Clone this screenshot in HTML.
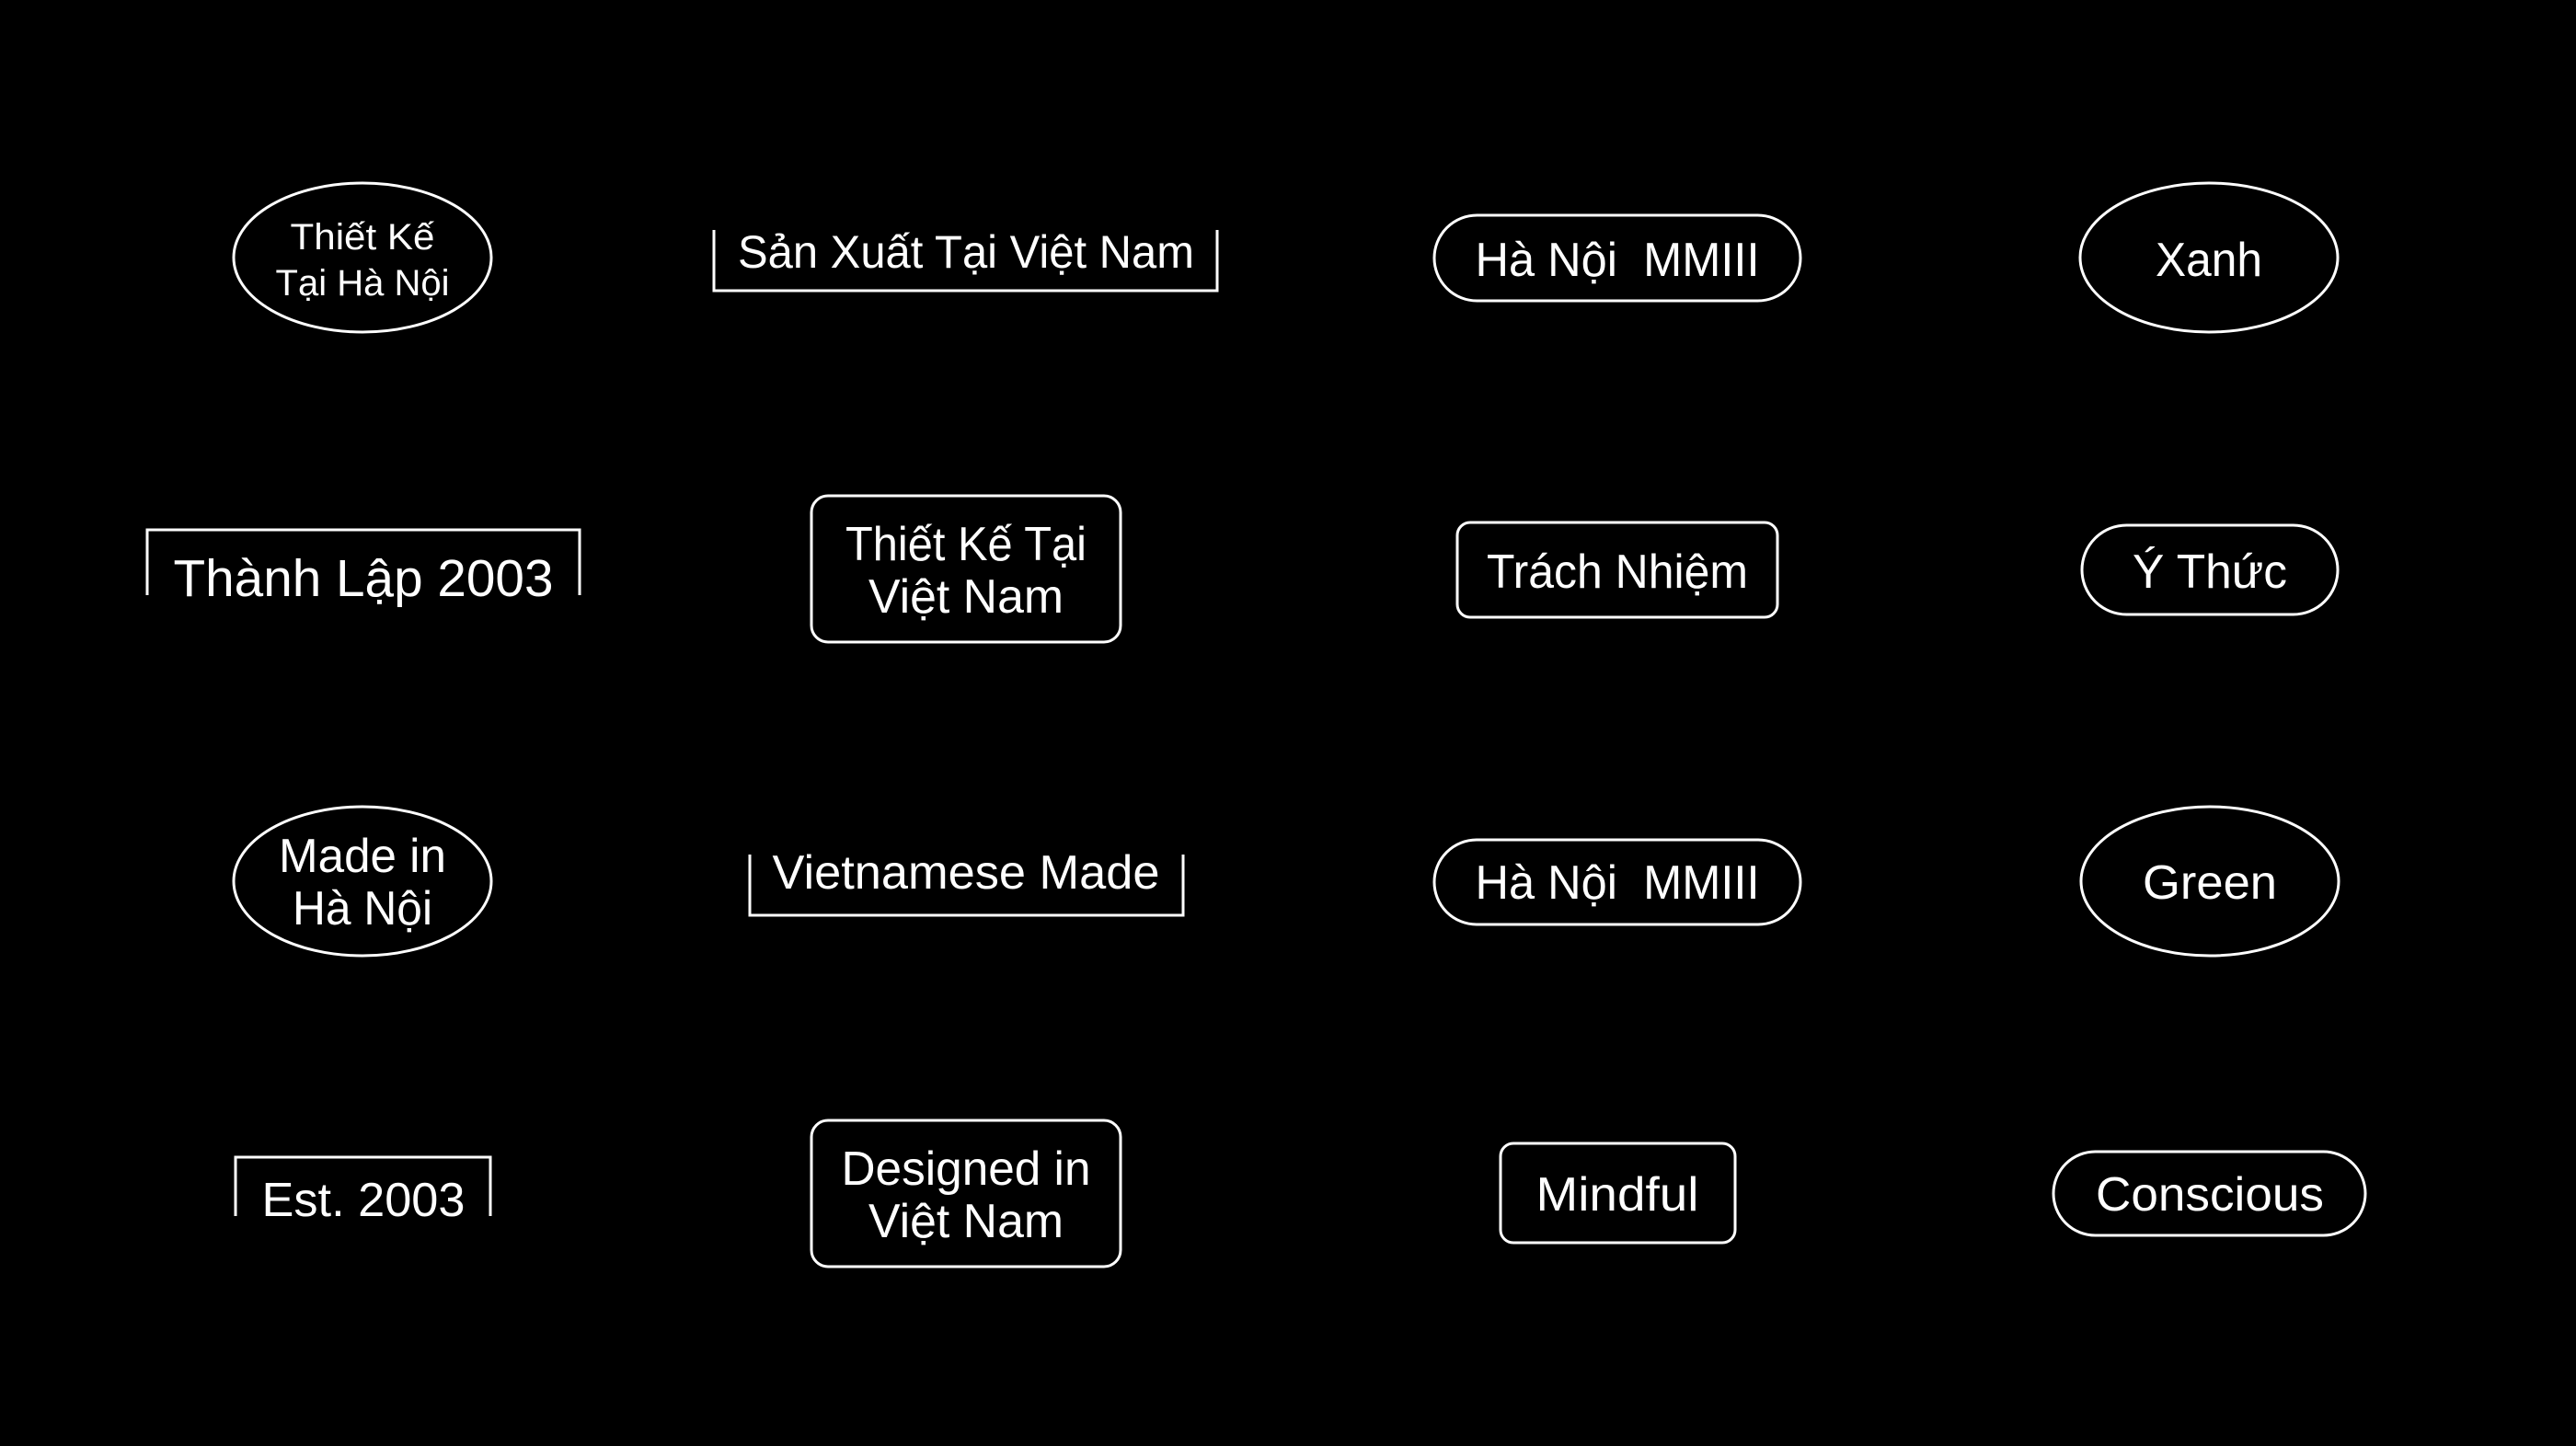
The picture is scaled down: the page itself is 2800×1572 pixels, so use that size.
<!DOCTYPE html>
<html><head><meta charset="utf-8"><style>
html,body{margin:0;padding:0;background:#000;}
svg{display:block}
text{fill:#fff;font-family:"Liberation Sans",sans-serif;text-anchor:middle}
.s{fill:none;stroke:#fff;stroke-width:3}
</style></head><body>
<svg width="2800" height="1572" viewBox="0 0 2800 1572">
<rect width="2800" height="1572" fill="#000"/>
<!-- Row 1 -->
<ellipse class="s" cx="394" cy="280" rx="140" ry="81"/>
<text x="394" y="271" font-size="40" textLength="157" lengthAdjust="spacingAndGlyphs">Thiết Kế</text>
<text x="394" y="321" font-size="40" textLength="189" lengthAdjust="spacingAndGlyphs">Tại Hà Nội</text>

<path class="s" d="M776 250 V316 H1323 V250"/>
<text x="1050" y="291" font-size="50" textLength="496" lengthAdjust="spacingAndGlyphs">Sản Xuất Tại Việt Nam</text>

<rect class="s" x="1559" y="234" width="398" height="93" rx="46.5"/>
<text x="1758" y="300" font-size="52" textLength="309" lengthAdjust="spacingAndGlyphs" xml:space="preserve">Hà Nội  MMIII</text>

<ellipse class="s" cx="2401" cy="280" rx="140" ry="81"/>
<text x="2401" y="300" font-size="52" textLength="116" lengthAdjust="spacingAndGlyphs">Xanh</text>

<!-- Row 2 -->
<path class="s" d="M160 647 V576 H630 V647"/>
<text x="395" y="648" font-size="57" textLength="413" lengthAdjust="spacingAndGlyphs">Thành Lập 2003</text>

<rect class="s" x="882" y="539" width="336" height="159" rx="18"/>
<text x="1050" y="609" font-size="52" textLength="262" lengthAdjust="spacingAndGlyphs">Thiết Kế Tại</text>
<text x="1050" y="666" font-size="52" textLength="212" lengthAdjust="spacingAndGlyphs">Việt Nam</text>

<rect class="s" x="1584" y="568" width="348" height="103" rx="14"/>
<text x="1758" y="639" font-size="52" textLength="284" lengthAdjust="spacingAndGlyphs">Trách Nhiệm</text>

<rect class="s" x="2263" y="571" width="278" height="97" rx="48.5"/>
<text x="2402" y="639" font-size="52" textLength="168" lengthAdjust="spacingAndGlyphs">Ý Thức</text>

<!-- Row 3 -->
<ellipse class="s" cx="394" cy="958" rx="140" ry="81"/>
<text x="394" y="948" font-size="52" textLength="182" lengthAdjust="spacingAndGlyphs">Made in</text>
<text x="394" y="1005" font-size="52" textLength="152" lengthAdjust="spacingAndGlyphs">Hà Nội</text>

<path class="s" d="M815 929 V995 H1286 V929"/>
<text x="1050" y="966" font-size="52" textLength="421" lengthAdjust="spacingAndGlyphs">Vietnamese Made</text>

<rect class="s" x="1559" y="913" width="398" height="92" rx="46"/>
<text x="1758" y="977" font-size="52" textLength="309" lengthAdjust="spacingAndGlyphs" xml:space="preserve">Hà Nội  MMIII</text>

<ellipse class="s" cx="2402" cy="958" rx="140" ry="81"/>
<text x="2402" y="977" font-size="52" textLength="146" lengthAdjust="spacingAndGlyphs">Green</text>

<!-- Row 4 -->
<path class="s" d="M256 1322 V1258 H533 V1322"/>
<text x="395" y="1322" font-size="52" textLength="221" lengthAdjust="spacingAndGlyphs">Est. 2003</text>

<rect class="s" x="882" y="1218" width="336" height="159" rx="18"/>
<text x="1050" y="1288" font-size="52" textLength="271" lengthAdjust="spacingAndGlyphs">Designed in</text>
<text x="1050" y="1345" font-size="52" textLength="212" lengthAdjust="spacingAndGlyphs">Việt Nam</text>

<rect class="s" x="1631" y="1243" width="255" height="108" rx="14"/>
<text x="1758" y="1316" font-size="52" textLength="177" lengthAdjust="spacingAndGlyphs">Mindful</text>

<rect class="s" x="2232" y="1252" width="339" height="91" rx="45.5"/>
<text x="2402" y="1316" font-size="52" textLength="248" lengthAdjust="spacingAndGlyphs">Conscious</text>
</svg>
</body></html>
